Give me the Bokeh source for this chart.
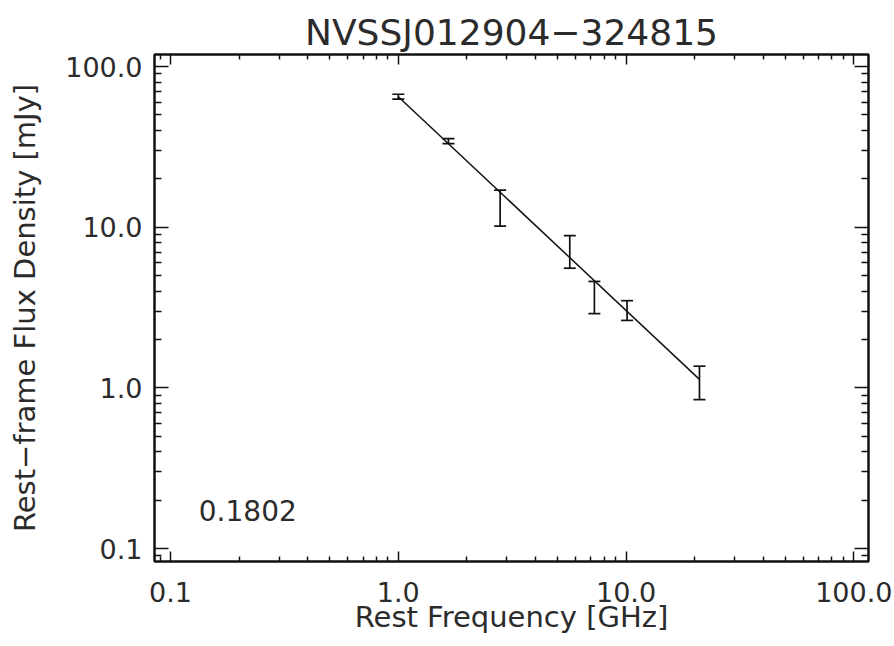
from bokeh.plotting import figure
from bokeh.models import (LogAxis, FixedTicker, Whisker, TeeHead, ColumnDataSource,
                          Label, Range1d, CustomJSTickFormatter)
from bokeh.embed import file_html
from bokeh.resources import INLINE

# ---- data ----
freq = [1.00, 1.66, 2.80, 5.66, 7.26, 10.1, 21.0]          # rest frequency [GHz]
flux = [65.0, 34.4, 13.6, 7.22, 3.75, 3.06, 1.105]         # rest-frame flux density [mJy]
flux_err = [2.3, 1.2, 3.45, 1.66, 0.85, 0.43, 0.26]        # 1-sigma error [mJy]
fit_freq = [1.0, 21.0]                                     # power-law fit end points
fit_flux = [65.0, 1.13]
tick_values = [0.1, 1.0, 10.0, 100.0]
tick_labels = ["0.1", "1.0", "10.0", "100.0"]
minor_values = [m * 10.0 ** e for e in (-2, -1, 0, 1, 2) for m in range(2, 10)]
title_text = "NVSSJ012904\u2212324815"
x_label = "Rest Frequency [GHz]"
y_label = "Rest\u2212frame Flux Density [mJy]"
redshift_text = "0.1802"

FONT = "DejaVu Sans"
INK = "#111111"
TXT = "#2b2b2b"

lower = [f - e for f, e in zip(flux, flux_err)]
upper = [f + e for f, e in zip(flux, flux_err)]
src = ColumnDataSource(dict(freq=freq, flux=flux, lower=lower, upper=upper))

p = figure(width=894, height=646, x_axis_type="log", y_axis_type="log",
           x_range=Range1d(0.085, 116), y_range=Range1d(0.083, 119),
           output_backend="svg", toolbar_location=None,
           min_border_left=154, min_border_right=26,
           min_border_top=54, min_border_bottom=85,
           background_fill_color="white", border_fill_color="white")

p.grid.visible = False
p.outline_line_color = INK
p.outline_line_width = 2

p.title.text = title_text
p.title.text_font = FONT
p.title.text_font_size = "36px"
p.title.text_font_style = "normal"
p.title.text_color = TXT
p.title.align = "center"
p.title.standoff = 4

ticker = FixedTicker(ticks=tick_values, minor_ticks=minor_values)
overrides = dict(zip(tick_values, tick_labels))


def style_axis(ax, major_len, minor_len, labels=True):
    ax.ticker = ticker
    ax.axis_line_color = INK
    ax.axis_line_width = 2
    ax.major_tick_line_color = INK
    ax.minor_tick_line_color = INK
    ax.major_tick_line_width = 1.5
    ax.minor_tick_line_width = 1.5
    ax.major_tick_in = major_len
    ax.major_tick_out = 0
    ax.minor_tick_in = minor_len
    ax.minor_tick_out = 0
    if labels:
        ax.major_label_overrides = overrides
        ax.major_label_text_font = FONT
        ax.major_label_text_font_size = "27px"
        ax.major_label_text_color = TXT
        ax.axis_label_text_font = FONT
        ax.axis_label_text_font_size = "29px"
        ax.axis_label_text_font_style = "normal"
        ax.axis_label_text_color = TXT
    else:
        ax.formatter = CustomJSTickFormatter(code="return ''")
        ax.major_label_text_font_size = "0px"
        ax.major_label_standoff = 0


xa = p.xaxis[0]
ya = p.yaxis[0]
style_axis(xa, 10, 5)
style_axis(ya, 14, 7)
xa.axis_label = x_label
ya.axis_label = y_label
xa.major_label_standoff = 20
xa.axis_label_standoff = -5
ya.major_label_standoff = 12
ya.axis_label_standoff = 20

top = LogAxis()
right = LogAxis()
style_axis(top, 10, 5, labels=False)
style_axis(right, 14, 7, labels=False)
p.add_layout(top, "above")
p.add_layout(right, "right")

# power-law fit
p.line(fit_freq, fit_flux, line_color=INK, line_width=1.5)

# error bars
p.add_layout(Whisker(source=src, base="freq", lower="lower", upper="upper",
                     dimension="height", line_color=INK, line_width=1.7,
                     upper_head=TeeHead(size=12, line_color=INK, line_width=1.7),
                     lower_head=TeeHead(size=12, line_color=INK, line_width=1.7)))

p.add_layout(Label(x=0.133, y=0.172, text=redshift_text, text_font=FONT,
                   text_font_size="28px", text_color=TXT,
                   text_baseline="alphabetic"))

open("out.html", "w").write(file_html(p, INLINE))
